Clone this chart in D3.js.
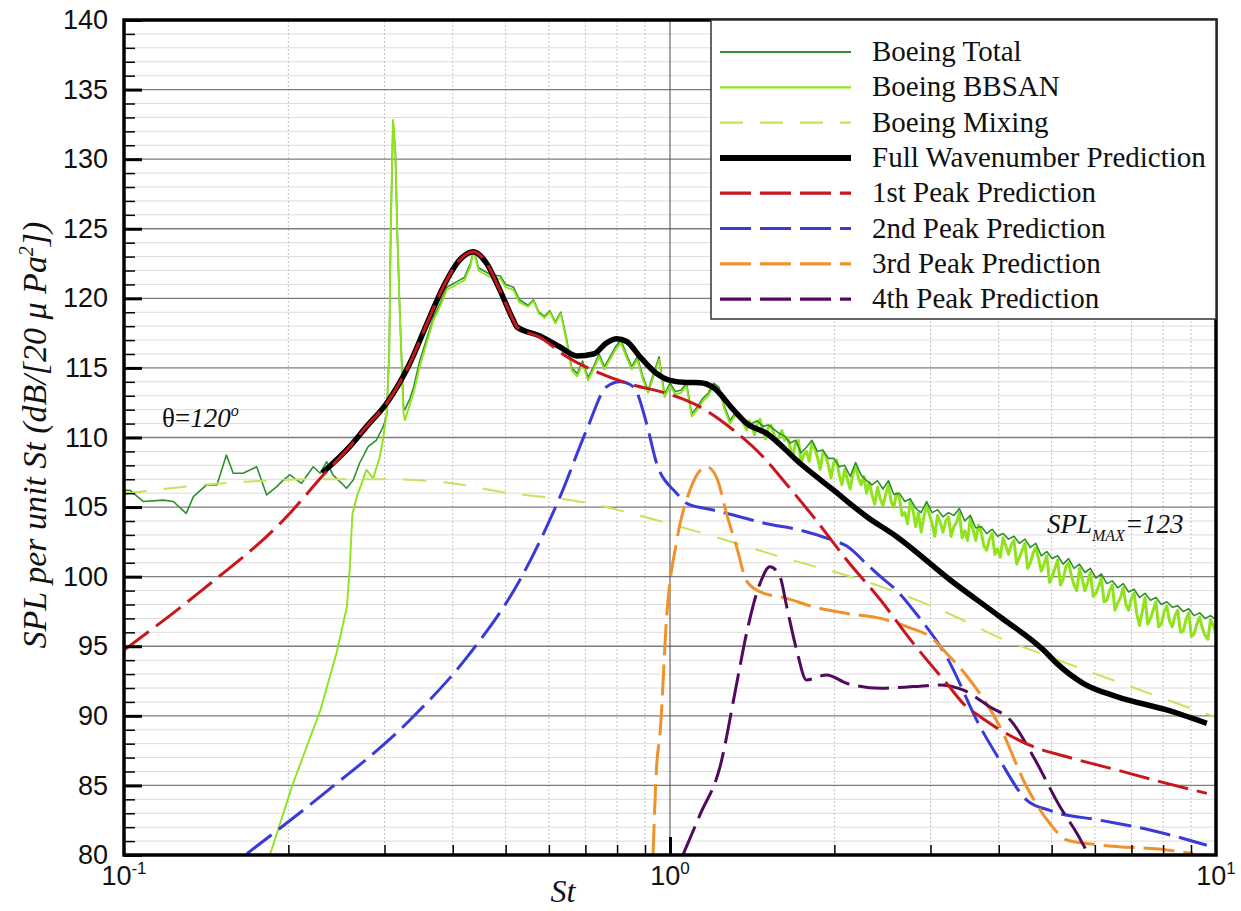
<!DOCTYPE html>
<html><head><meta charset="utf-8">
<script src="https://cdn.jsdelivr.net/npm/d3@7"></script>
<style>body{margin:0;background:#fff}svg{display:block}</style>
</head><body>
<svg id="c" width="1241" height="911"></svg>
<script>
// ---------------- DATA ----------------
const seriesNames = ["Boeing Total","Boeing BBSAN","Boeing Mixing","Full Wavenumber Prediction",
  "1st Peak Prediction","2nd Peak Prediction","3rd Peak Prediction","4th Peak Prediction"];
const yTicks = [80,85,90,95,100,105,110,115,120,125,130,135,140];
const xTickValues = [0.1,1,10];
const xTickExp = ["-1","0","1"];

// Boeing Total, low-frequency part
const totalLowSt = [0.100,0.1026,0.1085,0.118,0.1231,0.130,0.134,0.1417,0.148,0.154,0.1585,0.1652,0.175,0.1825,0.1904,0.196,0.2013,0.2114,0.2221,0.2287,0.235,0.2415,0.2486,0.2556,0.263,0.270,0.280,0.290,0.2984,0.3027,0.306,0.308,0.311,0.314,0.317,0.320,0.325,0.327,0.334,0.339,0.348,0.3685,0.380,0.390,0.407,0.420,0.431,0.437,0.446,0.455,0.470,0.489,0.500,0.517,0.530];
const totalLowSPL = [106.2,106.2,105.4,105.5,105.4,104.55,105.75,106.59,106.59,108.74,107.43,107.43,107.9,105.87,106.47,106.95,107.31,106.71,107.9,107.43,108.26,107.3,106.83,106.35,106.95,108.15,109.34,109.82,110.78,111.6,116,125,132.8,130.5,124,119,112.2,112.0,112.8,113.6,115.5,118.6,119.7,120.8,121.2,121.5,122.5,123.5,122.2,122.0,121.7,121.6,121.0,120.8,119.9];

// Boeing BBSAN, low-frequency part
const bbsanLowSt = [0.185,0.204,0.229,0.245,0.256,0.259,0.262,0.267,0.278,0.286,0.294,0.298,0.3027,0.306,0.308,0.311,0.314,0.317,0.320,0.325,0.327,0.334,0.339,0.348,0.3685,0.380,0.390,0.407,0.420,0.431,0.437,0.446,0.455,0.470,0.489,0.500,0.517,0.530];
const bbsanLowSPL = [80,85.15,90.42,94.5,97.84,100.5,104.5,105.75,107.67,107.07,108.6,109.82,111.74,116,125,132.8,130.5,124,118.9,111.74,111.26,112.4,113.18,115.1,118.4,119.5,120.6,121.0,121.3,122.3,123.47,122.0,121.8,121.5,121.4,120.8,120.6,119.7];

// shared St samples of the noisy high-frequency part (Total & BBSAN)
const highSt = [0.5495,0.5623,0.5754,0.5888,0.6026,0.6166,0.6310,0.6457,0.6607,0.6761,
 0.6918,0.7079,0.7244,0.7413,0.7586,0.7762,0.7943,0.8128,0.8318,0.8511,
 0.8710,0.8913,0.9120,0.9333,0.9550,0.9772,1.000,1.023,1.047,1.072,
 1.096,1.122,1.148,1.175,1.202,1.230,1.259,1.288,1.318,1.349,
 1.380,1.413,1.445,1.479,1.514,1.549,1.585,1.622,1.660,1.698,
 1.738,1.778,1.820,1.862,1.905,1.950,1.995,2.042,2.089,2.138,
 2.188,2.239,2.291,2.344,2.399,2.455,2.512,2.570,2.630,2.692,
 2.754,2.818,2.884,2.951,3.020,3.090,3.162,3.236,3.311,3.388,
 3.467,3.548,3.631,3.715,3.802,3.890,3.981,4.074,4.169,4.266,
 4.365,4.467,4.571,4.677,4.786,4.898,5.012,5.129,5.248,5.370,
 5.495,5.623,5.754,5.888,6.026,6.166,6.310,6.457,6.607,6.761,
 6.918,7.079,7.244,7.413,7.586,7.762,7.943,8.128,8.318,8.511,
 8.710,8.913,9.120,9.333,9.550,9.772,10.00];
const bbsanHighSPL = [119.4,119.8,118.9,118.6,119.0,118.2,118.9,117.0,114.8,114.4,
 115.3,114.1,114.9,115.8,114.9,115.6,116.3,116.8,115.8,114.9,
 115.6,114.2,113.2,114.4,115.6,112.9,113.7,113.1,113.2,113.7,
 111.5,112.0,112.6,113.0,113.7,113.4,112.0,111.0,111.6,111.3,
 110.5,110.8,111.0,110.5,110.7,110.3,110.1,109.8,109.3,109.6,
 108.1,109.0,109.6,108.6,108.9,108.0,108.2,107.3,107.7,106.3,
 108.0,106.6,106.0,105.9,106.4,105.1,106.6,105.0,105.7,104.6,
 105.4,103.6,103.2,105.1,103.8,104.4,103.2,104.3,103.6,104.6,
 103.3,104.2,102.6,103.2,101.9,103.1,102.0,102.8,101.6,102.6,
 101.4,102.4,101.0,102.1,100.4,101.5,100.0,101.2,99.8,101.0,
 99.4,100.6,99.0,100.3,98.8,99.9,98.3,99.4,98.1,99.2,
 97.6,98.8,96.5,98.5,97.0,98.2,96.6,97.9,96.4,97.6,
 96.1,97.4,95.9,97.1,95.8,96.9,95.9];
// extra in-between BBSAN samples of the dense noise band
const bandMidSt = [1.396,1.429,1.462,1.496,1.531,1.567,1.603,1.641,1.679,1.718,
 1.758,1.799,1.841,1.884,1.928,1.972,2.018,2.065,2.113,2.163,
 2.213,2.265,2.317,2.371,2.427,2.483,2.541,2.600,2.661,2.723,
 2.786,2.851,2.917,2.985,3.055,3.126,3.199,3.273,3.350,3.428,
 3.508,3.589,3.673,3.758,3.846,3.936,4.027,4.121,4.217,4.315,
 4.416,4.519,4.624,4.732,4.842,4.955,5.070,5.188,5.309,5.433,
 5.559,5.689,5.821,5.957,6.095,6.237,6.383,6.531,6.683,6.839,
 6.998,7.161,7.328,7.499,7.674,7.852,8.035,8.222,8.414,8.610,
 8.810,9.016,9.226,9.441,9.661,9.886];
const bbsanMidSPL = [111.2,110.2,111.3,109.9,110.9,109.6,110.5,110.0,108.6,109.8,
 108.8,108.3,109.2,107.7,108.7,107.1,108.4,106.6,107.0,107.4,
 107.1,107.2,106.8,105.2,105.6,105.9,105.4,106.0,104.4,103.8,
 104.8,104.6,104.3,104.5,102.9,103.9,104.0,102.9,103.9,102.8,
 102.6,103.4,103.7,102.2,102.7,101.6,101.4,102.2,102.3,100.9,
 101.9,100.6,101.7,101.3,100.9,99.6,100.6,99.4,100.7,100.1,
 99.0,99.8,99.6,98.6,99.3,98.2,99.0,97.6,98.5,98.0,
 98.4,97.3,97.5,96.6,97.6,96.4,97.5,96.8,97.2,96.0,
 96.9,95.7,96.6,96.3,95.5,96.5];
const totalHighSPL = [119.5,119.9,119.0,118.7,119.1,118.3,119.0,117.2,115.0,114.6,
 115.5,114.3,115.1,116.0,115.1,115.8,116.5,117.0,116.0,115.1,
 115.8,114.4,113.4,114.6,115.8,113.1,113.9,113.3,113.4,113.9,
 111.7,112.2,112.8,113.2,113.9,113.6,112.2,111.2,111.8,111.5,
 110.8,111.0,111.2,110.8,110.9,110.6,110.3,110.1,109.6,109.8,
 108.9,109.3,109.8,109.0,109.1,108.5,108.5,107.9,108.0,107.2,
 108.2,107.3,106.9,106.6,106.9,106.3,106.9,105.9,106.0,105.4,
 105.6,104.9,104.6,105.4,104.6,104.8,104.3,104.6,104.4,104.9,
 104.0,104.4,103.5,103.6,103.1,103.4,102.9,103.1,102.7,102.9,
 102.4,102.7,102.1,102.4,101.5,101.8,101.3,101.5,100.9,101.3,
 100.6,100.9,100.3,100.6,99.9,100.2,99.5,99.7,99.2,99.5,
 98.9,99.1,98.5,98.8,98.3,98.5,98.0,98.2,97.8,97.9,
 97.5,97.7,97.2,97.4,97.0,97.2,96.9];

// Boeing Mixing
const mixSt  = [0.1,0.15,0.2287,0.3027,0.401,0.489,0.684,1.043,1.59,2.43,3.26,4.02,4.83,6.13,7.57,9.05,10];
const mixSPL = [105.95,106.7,107.0,107.0,106.7,106.1,105.39,103.59,101.44,99.3,97.3,95.6,94.4,92.9,91.6,90.5,89.9];

// Full wavenumber prediction
const fullSt  = [0.2307,0.259,0.278,0.3027,0.334,0.358,0.3845,0.412,0.4364,0.4616,0.4848,0.5164,0.5239,0.578,0.6288,0.675,0.724,0.7656,0.7985,0.833,0.8813,0.9454,1.0,1.073,1.135,1.200,1.306,1.381,1.503,1.730,1.991,2.293,2.602,3.26,4.02,4.83,5.11,5.71,6.58,8.12,9.62];
const fullSPL = [107.45,109.34,110.78,112.46,115.35,118.1,120.84,122.76,123.35,122.5,120.84,118.44,117.96,117.3,116.5,115.86,116.0,116.8,117.1,116.9,115.8,114.6,114.1,113.95,113.94,113.6,112.0,111.02,110.3,108.15,106.23,104.31,102.87,99.76,97.12,94.73,93.77,92.34,91.38,90.42,89.46];

// 1st peak
const p1St  = [0.1,0.1397,0.1985,0.2317,0.259,0.278,0.3027,0.334,0.358,0.3845,0.412,0.4364,0.4616,0.4848,0.5164,0.5239,0.578,0.647,0.745,0.857,0.986,1.135,1.306,1.48,1.63,1.83,2.107,2.43,2.79,3.21,3.49,3.70,4.02,4.63,5.33,6.58,8.12,9.62];
const p1SPL = [94.73,99.1,104.3,107.3,109.34,110.78,112.46,115.35,118.1,120.84,122.76,123.35,122.5,120.84,118.44,117.96,117.2,115.8,114.61,113.77,113.17,112.2,110.54,108.62,106.7,104.31,101.2,98.32,95.21,92.34,90.66,89.94,89.0,87.78,87.06,86.11,85.15,84.43];

// 2nd peak
const p2St  = [0.168,0.2287,0.334,0.4305,0.531,0.629,0.7036,0.7656,0.810,0.857,0.906,0.945,1.028,1.073,1.200,1.306,1.503,1.73,1.991,2.107,2.293,2.43,2.602,2.79,3.21,3.70,4.02,4.50,4.96,6.13,7.57,9.62];
const p2SPL = [80.1,84.2,89.7,94.5,99.76,105.75,110.54,113.65,114.0,113.65,111.0,108.15,106.0,105.27,104.79,104.43,103.8,103.35,102.6,102.2,100.9,100.0,99.0,97.6,94.25,89.2,86.8,83.95,83.2,82.5,81.8,80.7];

// 3rd peak
const p3St  = [0.931,0.945,0.959,0.986,1.028,1.088,1.167,1.218,1.270,1.325,1.381,1.462,1.636,1.830,2.107,2.43,2.714,3.036,3.21,3.49,4.02,4.50,4.96,5.33,6.13,8.12,9.08];
const p3SPL = [80,86.35,88.75,97.12,102.5,106.23,107.9,107.1,104.5,102.1,99.7,98.92,98.44,97.84,97.36,97.0,96.4,95.5,94.49,92.9,89.22,84.9,82.28,81.08,80.72,80.36,80.1];

// 4th peak
const p4St  = [1.056,1.135,1.235,1.325,1.381,1.462,1.524,1.590,1.636,1.706,1.778,1.935,2.107,2.43,2.79,3.12,3.44,3.85,4.20,4.63,5.18,5.56,5.83];
const p4SPL = [80,82.9,86.35,92.34,95.93,99.52,100.72,100.0,97.84,94.73,92.58,92.94,92.34,91.98,92.1,92.22,91.86,90.66,89.7,87.06,83.47,81.56,80.1];

// ---------------- STYLE ----------------
const colors = ["#2f8f2f","#8fe31c","#c6e35a","#000000","#c8161c","#3a3ad8","#f0922c","#520a5e"];
const dashes = [null,null,"23,17",null,"31,9","31,9","31,9","31,9"];
const widths = [1.6,1.9,2,5.5,3,3,3,3];

const svg = d3.select("#c");
svg.append("rect").attr("width",1241).attr("height",911).attr("fill","#fff");
const x = d3.scaleLog().domain([0.1,10]).range([124,1216]);
const y = d3.scaleLinear().domain([80,140]).range([855,20]);
const [X0,X1] = x.range(), [Y0,Y1] = y.range();

// grid
const g = svg.append("g");
const minorYVals = d3.range(80,141,1).filter(v=>v%5!==0);
g.selectAll(".hmin").data(minorYVals).join("line")
  .attr("x1",X0).attr("x2",X1).attr("y1",d=>y(d)).attr("y2",d=>y(d))
  .attr("stroke","#dcdcdc").attr("stroke-width",1);
const minorXVals = [0.2,0.3,0.4,0.5,0.6,0.7,0.8,0.9,2,3,4,5,6,7,8,9];
g.selectAll(".vmin").data(minorXVals).join("line")
  .attr("x1",d=>x(d)).attr("x2",d=>x(d)).attr("y1",Y0).attr("y2",Y1)
  .attr("stroke","#c4c4c4").attr("stroke-width",1).attr("stroke-dasharray","2,2");
g.selectAll(".hmaj").data(yTicks.slice(1,-1)).join("line")
  .attr("x1",X0).attr("x2",X1).attr("y1",d=>y(d)).attr("y2",d=>y(d))
  .attr("stroke","#7d7d7d").attr("stroke-width",1.3);
g.append("line").attr("x1",x(1)).attr("x2",x(1)).attr("y1",Y0).attr("y2",Y1)
  .attr("stroke","#4a4a4a").attr("stroke-width",1);

// data
svg.append("clipPath").attr("id","pc").append("rect")
  .attr("x",X0).attr("y",Y1).attr("width",X1-X0).attr("height",Y0-Y1);
const dg = svg.append("g").attr("clip-path","url(#pc)");
const lin = d3.line().x(d=>x(d[0])).y(d=>y(d[1]));
const smooth = d3.line().x(d=>x(d[0])).y(d=>y(d[1])).curve(d3.curveMonotoneX);

const totalData = d3.zip(totalLowSt.concat(highSt), totalLowSPL.concat(totalHighSPL));
const bbsanData = d3.sort(
  d3.zip(bbsanLowSt.concat(highSt, bandMidSt), bbsanLowSPL.concat(bbsanHighSPL, bbsanMidSPL)),
  d=>d[0]);
function draw(data, i, gen, w){
  dg.append("path").attr("d",gen(data))
    .attr("fill","none").attr("stroke",colors[i]).attr("stroke-width",w || widths[i])
    .attr("stroke-linejoin","round").attr("stroke-dasharray",dashes[i]);
}
// Total: low/mid part beneath BBSAN, dense band part on top of it
draw(totalData.filter(d=>d[0]<=1.40), 0, lin);
draw(bbsanData.filter(d=>d[0]<=1.40), 1, lin);
draw(bbsanData.filter(d=>d[0]>=1.38), 1, lin, 3);
draw(totalData.filter(d=>d[0]>=1.38), 0, lin);
draw(d3.zip(mixSt,mixSPL), 2, smooth);
draw(d3.zip(fullSt,fullSPL), 3, smooth);
draw(d3.zip(p2St,p2SPL), 5, smooth);
draw(d3.zip(p3St,p3SPL), 6, smooth);
draw(d3.zip(p4St,p4SPL), 7, smooth);
draw(d3.zip(p1St,p1SPL), 4, smooth);

// axes
const axFont = "27px 'Liberation Sans', Arial, sans-serif";
const yMaj = svg.append("g").attr("transform",`translate(${X0},0)`)
  .call(d3.axisLeft(y).tickValues(yTicks).tickSize(-18).tickPadding(16).tickFormat(d3.format("d")));
yMaj.select(".domain").remove();
yMaj.selectAll(".tick line").attr("stroke","#000").attr("stroke-width",3);
yMaj.selectAll(".tick text").style("font",axFont).attr("fill","#111");
const yMin = svg.append("g").attr("transform",`translate(${X0},0)`)
  .call(d3.axisLeft(y).tickValues(minorYVals).tickSize(-11).tickFormat(""));
yMin.select(".domain").remove();
yMin.selectAll(".tick line").attr("stroke","#000").attr("stroke-width",1.5);

const xMin = svg.append("g").attr("transform",`translate(0,${Y0})`)
  .call(d3.axisBottom(x).tickValues(minorXVals).tickSize(-10).tickFormat(""));
xMin.select(".domain").remove();
xMin.selectAll(".tick line").attr("stroke","#000").attr("stroke-width",1.5);
const xMaj = svg.append("g").attr("transform",`translate(0,${Y0})`)
  .call(d3.axisBottom(x).tickValues([1]).tickSize(-18).tickFormat(""));
xMaj.select(".domain").remove();
xMaj.selectAll(".tick line").attr("stroke","#000").attr("stroke-width",3);

// x tick labels 10^n
xTickValues.forEach((v,i)=>{
  const t = svg.append("text").attr("x",x(v)).attr("y",885).attr("text-anchor","middle")
    .style("font",axFont).attr("fill","#111");
  t.append("tspan").text("10");
  t.append("tspan").attr("dy",-11).style("font-size","17px").text(xTickExp[i]);
});

// frame
svg.append("rect").attr("x",X0).attr("y",Y1).attr("width",X1-X0).attr("height",Y0-Y1)
  .attr("fill","none").attr("stroke","#000").attr("stroke-width",3.5);

// axis titles
const serif = "'Liberation Serif','Times New Roman',serif";
const yl = svg.append("text").attr("transform","translate(46,435) rotate(-90)")
  .attr("text-anchor","middle").style("font",`italic 34px ${serif}`).attr("fill","#111");
yl.append("tspan").text("SPL per unit St (dB/[20 μ Pa");
yl.append("tspan").attr("dy",-13).style("font-size","20px").text("2");
yl.append("tspan").attr("dy",13).text("])");
svg.append("text").attr("x",563).attr("y",902).attr("text-anchor","middle")
  .style("font",`italic 32px ${serif}`).attr("fill","#111").text("St");

// annotations
const th = svg.append("text").attr("x",162).attr("y",427).style("font",`27px ${serif}`).attr("fill","#111");
th.append("tspan").text("θ=");
th.append("tspan").style("font-style","italic").text("120");
th.append("tspan").attr("dy",-11).style("font-size","16px").style("font-style","italic").text("o");
const sm = svg.append("text").attr("x",1047).attr("y",533).style("font",`italic 27px ${serif}`).attr("fill","#111");
sm.append("tspan").text("SPL");
sm.append("tspan").attr("dy",8).style("font-size","16px").text("MAX");
sm.append("tspan").attr("dy",-8).text("=123");

// legend
const lg = svg.append("g");
lg.append("rect").attr("x",711).attr("y",Y1).attr("width",X1-711).attr("height",299)
  .attr("fill","#fff").attr("stroke","#333").attr("stroke-width",1.5);
seriesNames.forEach((name,i)=>{
  const ly = 52 + i*35.3;
  lg.append("line").attr("x1",720).attr("x2",851).attr("y1",ly).attr("y2",ly)
    .attr("stroke",colors[i]).attr("stroke-width", i===3?6:(i<3?2.2:3.2))
    .attr("stroke-dasharray",dashes[i]);
  lg.append("text").attr("x",872).attr("y",ly+9).style("font",`29px ${serif}`)
    .attr("fill","#111").text(name);
});
</script>
</body></html>
